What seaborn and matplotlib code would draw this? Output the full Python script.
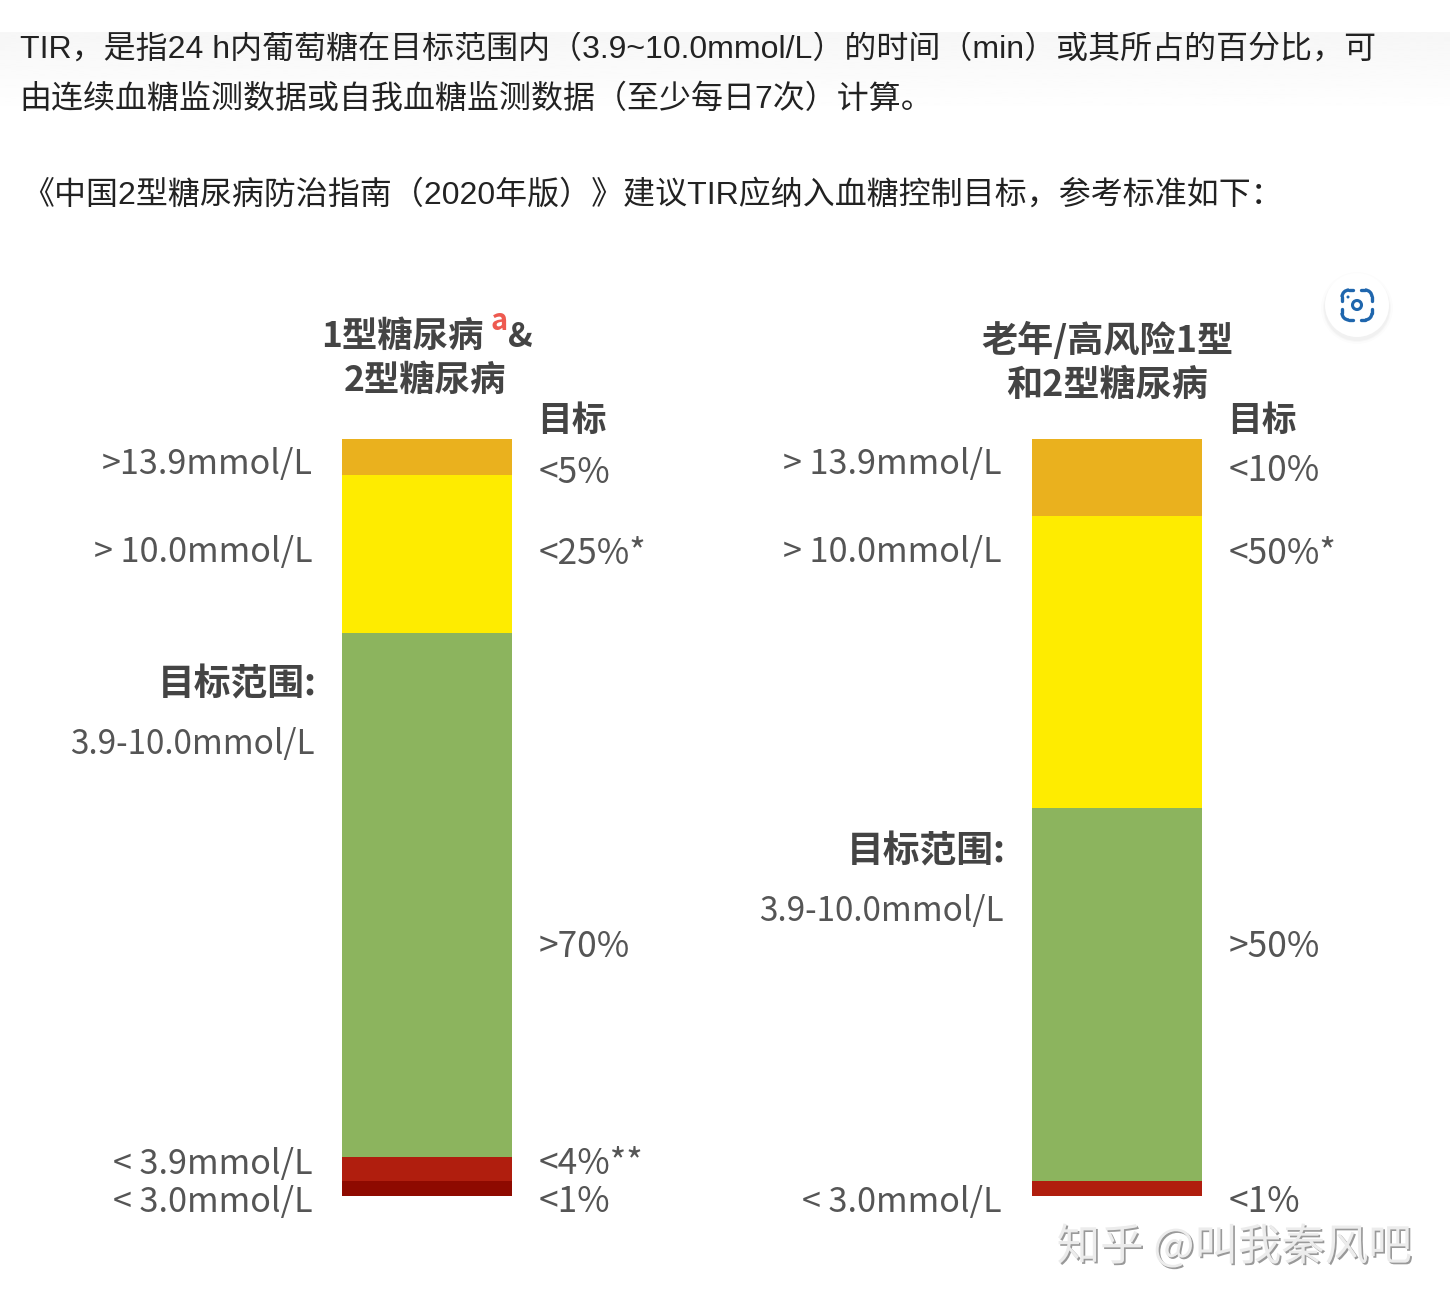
import matplotlib
matplotlib.use('Agg')
import matplotlib.pyplot as plt
import matplotlib.patheffects as pe
from matplotlib.patches import Arc, Circle
import numpy as np
import seaborn as sns

sns.set_theme(style='white')
CJK = ['Noto Sans CJK SC', 'DejaVu Sans']
BODY = ['Liberation Sans', 'Noto Sans CJK SC']
plt.rcParams['font.family'] = CJK

# share of the bar height of each band, top band first
left_bands = [4.8, 20.9, 69.2, 3.2, 2.0]
left_colors = ['#EAB11E', '#FEEC00', '#8CB45E', '#B01E0E', '#8E0A00']
right_bands = [10.2, 38.6, 49.3, 2.0]
right_colors = ['#EAB11E', '#FEEC00', '#8CB45E', '#B01E0E']

left_ranges = ['>13.9mmol/L', '> 10.0mmol/L', '< 3.9mmol/L', '< 3.0mmol/L']
left_targets = ['<5%', '<25%*', '>70%', '<4%**', '<1%']
right_ranges = ['> 13.9mmol/L', '> 10.0mmol/L', '< 3.0mmol/L']
right_targets = ['<10%', '<50%*', '>50%', '<1%']
range_title = '目标范围:'
range_value = '3.9-10.0mmol/L'
target_title = '目标'

intro = ['TIR，是指24 h内葡萄糖在目标范围内（3.9~10.0mmol/L）的时间（min）或其所占的百分比，可',
         '由连续血糖监测数据或自我血糖监测数据（至少每日7次）计算。',
         '《中国2型糖尿病防治指南（2020年版）》建议TIR应纳入血糖控制目标，参考标准如下：']

W, H = 1450, 1304
TXT = '#555555'
HEAD = '#444444'


def draw_bar(bands, colors, x0, x1, y0, y1):
    # one axes per bar, placed on the pixel grid of the reference
    ax = fig.add_axes([x0 / W, 1 - y1 / H, (x1 - x0) / W, (y1 - y0) / H])
    tops = np.cumsum(bands[::-1])[::-1]
    for top, color in zip(tops, colors):
        sns.barplot(x=['all'], y=[top], color=color, saturation=1, width=1, linewidth=0, ax=ax)
    ax.set_xlim(-0.5, 0.5)
    ax.set_ylim(0, sum(bands))
    ax.axis('off')
    return ax


fig = plt.figure(figsize=(W / 100, H / 100), dpi=100, facecolor='white')
bg = fig.add_axes([0, 0, 1, 1])
bg.set_xlim(0, W)
bg.set_ylim(H, 0)
bg.axis('off')

# faint grey fade behind the first two lines
fade = np.linspace(0.965, 1, 64).reshape(-1, 1)
bg.imshow(fade, extent=(0, W, 116, 32), cmap='gray', vmin=0, vmax=1, aspect='auto', zorder=0)
bg.set_xlim(0, W)
bg.set_ylim(H, 0)

for line, x, y in zip(intro, [20, 19, 22], [58, 108, 204]):
    bg.text(x, y, line, family=BODY, fontsize=23.0, color='#222222', va='baseline', zorder=1)
# the screenshot cuts the first line at its top
bg.fill_between([0, W], 0, 32, color='white', lw=0, zorder=2)

draw_bar(left_bands, left_colors, 342, 512, 439, 1196)
draw_bar(right_bands, right_colors, 1032, 1202, 439, 1196)


def label(x, y, s, ha='left', size=24.6, color=TXT, weight='normal'):
    return bg.text(x, y, s, ha=ha, va='baseline', fontsize=size, color=color, fontweight=weight)


# left chart
label(484, 347, '1型糖尿病', ha='right', size=25.5, color=HEAD, weight='bold')
label(491, 330, 'a', size=21, color='#EE5A50', weight='bold')
label(508, 347, '&', size=24, color=HEAD, weight='bold')
label(425, 391, '2型糖尿病', ha='center', size=25.5, color=HEAD, weight='bold')
label(537, 431, target_title, size=25, color=HEAD, weight='bold')
for s, y in zip(left_ranges, [474, 562, 1174, 1212]):
    label(313, y, s, ha='right')
for s, y in zip(left_targets, [483, 564, 957, 1174, 1212]):
    label(539, y, s, size=25.4)
label(317, 695, range_title, ha='right', size=26.5, color=HEAD, weight='bold')
label(315, 754, range_value, ha='right', size=24)

# right chart
label(1107, 352, '老年/高风险1型', ha='center', size=26, color=HEAD, weight='bold')
label(1107, 396, '和2型糖尿病', ha='center', size=26, color=HEAD, weight='bold')
label(1227, 431, target_title, size=25, color=HEAD, weight='bold')
for s, y in zip(right_ranges, [474, 562, 1212]):
    label(1002, y, s, ha='right')
for s, y in zip(right_targets, [481, 564, 957, 1212]):
    label(1229, y, s, size=25.4)
label(1006, 862, range_title, ha='right', size=26.5, color=HEAD, weight='bold')
label(1004, 921, range_value, ha='right', size=24)

# watermark
wm = bg.text(1412, 1260, '知乎 @叫我秦风吧', ha='right', va='baseline', fontsize=31.3, color='#ececec')
wm.set_path_effects([pe.withSimplePatchShadow(offset=(1.2, -1.2), shadow_rgbFace='#999999', alpha=1)])

# lens button of the screenshot
for r, a in zip([36, 34, 33], [0.012, 0.018, 0.025]):
    bg.add_patch(Circle((1357, 308), r, color='black', alpha=a, lw=0))
bg.add_patch(Circle((1357, 305), 32, color='white', lw=0))
blue = '#1F66AD'
for cx, cy, start in [(1349, 297, 180), (1365, 297, 270), (1365, 313, 0), (1349, 313, 90)]:
    bg.add_patch(Arc((cx, cy), 14, 14, theta1=start, theta2=start + 90, color=blue, lw=2.4))
for xs, ys in [((1349, 1353), (290, 290)), ((1361, 1365), (290, 290)),
               ((1349, 1353), (320, 320)), ((1361, 1365), (320, 320)),
               ((1342, 1342), (297, 301)), ((1372, 1372), (297, 301)),
               ((1342, 1342), (309, 313)), ((1372, 1372), (309, 313))]:
    bg.plot(xs, ys, color=blue, lw=2.4, solid_capstyle='round')
bg.add_patch(Circle((1357, 305), 4.5, fill=False, ec=blue, lw=2.2))
bg.add_patch(Circle((1348, 297), 1.5, color=blue, lw=0))

fig.savefig('out.png', dpi=100)
